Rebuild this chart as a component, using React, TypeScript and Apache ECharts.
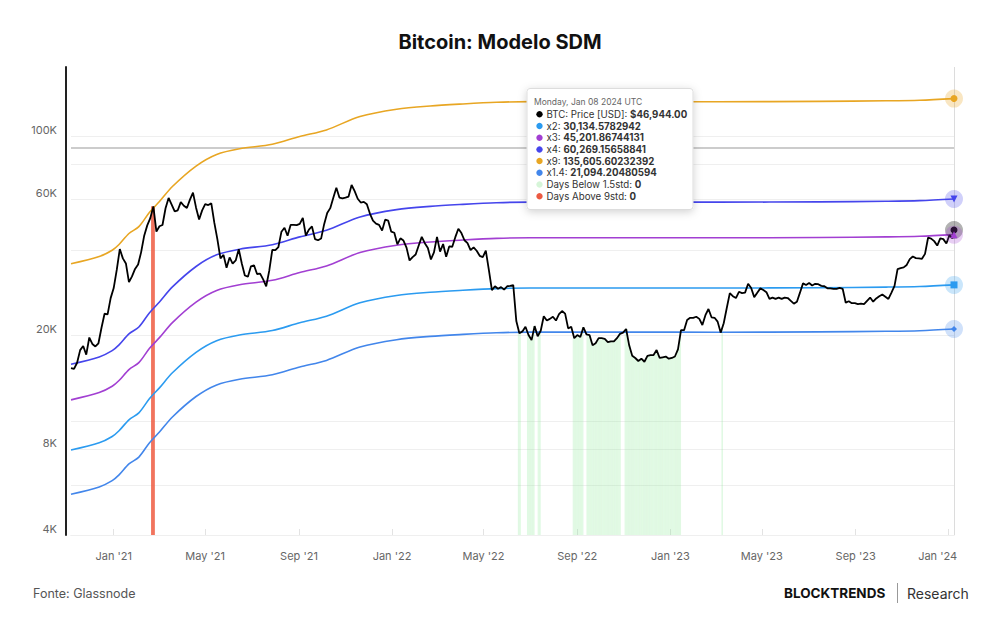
import React, { useEffect, useRef } from 'react';
import * as echarts from 'echarts';

const DAY = 86400000;
const ts = (d: string) => Date.parse(d + 'T00:00:00Z');

// BTC daily close sampled every 4 days, starting on priceStart
const priceStart = '2020-11-06';
const priceStepDays = 4;
const btcPrice = [
  // 2020-11
  15400, 15300, 16070, 17800, 18400, 17150, 19700,
  // 2020-12
  18700, 18330, 18810, 21310, 23870, 23740, 27080,
  // 2021-01
  29370, 33990, 40250, 37320, 35830, 30830, 32260, 34270,
  // 2021-02
  35510, 39260, 44840, 48720, 51650, 56800, 46340,
  // 2021-03
  48370, 48880, 55960, 60800, 57640, 54530, 55030, 58800,
  // 2021-04
  57100, 56050, 60000, 63500, 56200, 51100, 55000,
  // 2021-05
  57800, 57400, 58200, 49700, 43500, 37300, 38400, 34600,
  // 2021-06
  37600, 35800, 36700, 40200, 35800, 32500, 32200, 35000,
  // 2021-07
  35300, 32900, 33000, 31500, 29800, 33800, 40000,
  // 2021-08
  39900, 40900, 46300, 47800, 44800, 48900, 48900, 48800,
  // 2021-09
  49300, 51800, 44900, 47100, 48300, 43600, 43200, 43800,
  // 2021-10
  49200, 53800, 56000, 60900, 66000, 61000, 60600,
  // 2021-11
  61000, 61500, 67500, 64200, 60400, 58600, 58900, 57800,
  // 2021-12
  53600, 50600, 49400, 48900, 46700, 51000, 50600, 46300,
  // 2022-01
  45900, 41800, 43900, 43100, 40700, 36700, 37700,
  // 2022-02
  38500, 41400, 44400, 42200, 40600, 37000, 39200,
  // 2022-03
  44400, 39400, 41900, 37800, 41100, 41000, 44300, 47400,
  // 2022-04
  45800, 43200, 42200, 39900, 40800, 39700, 38100, 37700,
  // 2022-05
  39700, 34000, 28900, 29800, 29200, 29600, 29000,
  // 2022-06
  29800, 29900, 30100, 22500, 20400, 20700, 21500, 20100,
  // 2022-07
  19300, 21600, 19900, 20800, 23400, 22600, 22900, 23300,
  // 2022-08
  22600, 23800, 24400, 23900, 21200, 21500, 19600,
  // 2022-09
  20100, 19800, 21400, 20200, 20100, 18500, 18800, 19600,
  // 2022-10
  19600, 19500, 19000, 19100, 19100, 19600, 20300, 20500,
  // 2022-11
  21100, 18500, 17000, 16700, 16300, 16600, 16200,
  // 2022-12
  17000, 17100, 17100, 17800, 16700, 16800, 16900, 16600,
  // 2023-01
  16700, 16900, 17900, 20900, 20900, 22700, 23100, 23100,
  // 2023-02
  23300, 22900, 21800, 23600, 24800, 23200, 23100,
  // 2023-03
  22400, 20500, 22100, 25000, 28200, 27500, 27100,
  // 2023-04
  28500, 28200, 28300, 30400, 29400, 27300, 28300, 29300,
  // 2023-05
  28900, 28400, 26900, 27200, 26900, 27200, 26900, 27200,
  // 2023-06
  27100, 26500, 25900, 26300, 28300, 30500, 30100,
  // 2023-07
  30600, 30000, 30400, 30300, 29900, 29800, 29300, 29300,
  // 2023-08
  29200, 29200, 29400, 29200, 26100, 26400, 26000, 26000,
  // 2023-09
  25800, 25900, 25800, 26500, 27200, 26300, 27000,
  // 2023-10
  27500, 27900, 27400, 26900, 28300, 29900, 34200, 34500,
  // 2023-11
  34700, 35400, 37100, 37900, 37400, 37300, 37200,
  // 2023-12
  38700, 44100, 43800, 42900, 41400, 43900, 43600, 42100,
  // 2024-01
  45000, 43900,
];
const lastDate = '2024-01-08';
const lastPrice = 46944;

// SDM base curve (the bands are multiples of it)
const sdmBase: [string, number][] = [
  ['2020-11-06', 3970],
  ['2020-12-13', 4210],
  ['2020-12-30', 4430],
  ['2021-01-08', 4640],
  ['2021-01-21', 5070],
  ['2021-02-03', 5360],
  ['2021-02-17', 6020],
  ['2021-03-02', 6560],
  ['2021-03-19', 7410],
  ['2021-04-19', 8740],
  ['2021-05-16', 9600],
  ['2021-06-15', 10050],
  ['2021-07-28', 10420],
  ['2021-09-02', 11100],
  ['2021-10-07', 11700],
  ['2021-11-20', 13040],
  ['2022-01-07', 13830],
  ['2022-02-20', 14200],
  ['2022-04-04', 14430],
  ['2022-05-18', 14620],
  ['2022-07-01', 14700],
  ['2022-11-01', 14700],
  ['2023-03-06', 14690],
  ['2023-07-15', 14730],
  ['2023-10-11', 14800],
  ['2023-11-24', 14870],
  ['2024-01-08', 15067.289147102],
];

const bandNames = ['x2', 'x3', 'x4', 'x9', 'x1.4'];
const bandMultipliers = [2, 3, 4, 9, 1.4];

// Periods flagged by the two indicators
const daysBelow: [string, string][] = [
  ['2022-06-15', '2022-06-18'],
  ['2022-06-27', '2022-07-06'],
  ['2022-07-11', '2022-07-14'],
  ['2022-08-26', '2022-09-08'],
  ['2022-09-13', '2022-10-27'],
  ['2022-11-02', '2023-01-14'],
  ['2023-03-09', '2023-03-10'],
];
const daysAbove: [string, string][] = [['2021-02-19', '2021-02-23']];

const yGridValues = [100000, 80000, 60000, 40000, 20000, 10000, 8000, 6000, 4000];
const yGridLabels = ['100K', '', '60K', '', '20K', '', '8K', '', '4K'];
const referenceLevel = 91500;

const xTickDates = [
  '2021-01-01', '2021-05-01', '2021-09-01', '2022-01-01', '2022-05-01',
  '2022-09-01', '2023-01-01', '2023-05-01', '2023-09-01', '2024-01-01',
];
const xTickLabels = [
  "Jan '21", "May '21", "Sep '21", "Jan '22", "May '22",
  "Sep '22", "Jan '23", "May '23", "Sep '23", "Jan '24",
];

// styles
const FONT = 'Inter';
const Y_MIN = 4000;
const Y_MAX = 175000;
const bandColors: Record<string, string> = {
  x2: '#2B9BF0',
  x3: '#A23FD2',
  x4: '#4545EC',
  x9: '#E8A623',
  'x1.4': '#4286EB',
};
const bandHalos: Record<string, string> = {
  x2: 'rgba(43,155,240,0.25)',
  x3: 'rgba(162,63,210,0.25)',
  x4: 'rgba(69,69,236,0.25)',
  x9: 'rgba(232,166,35,0.28)',
  'x1.4': 'rgba(66,134,235,0.25)',
};
const bandSymbols: Record<string, [string, number, number]> = {
  x2: ['rect', 7, 0],
  x3: ['triangle', 7, 0],
  x4: ['triangle', 7, 180],
  x9: ['circle', 7, 0],
  'x1.4': ['diamond', 6, 0],
};
const belowColor = 'rgba(150,235,160,0.3)';
const aboveColor = 'rgba(238,92,66,0.85)';

const priceData: [number, number][] = btcPrice.map((v, i) => [
  ts(priceStart) + i * priceStepDays * DAY,
  v,
]);
priceData.push([ts(lastDate), lastPrice]);

function nearestPrice(t: number): number {
  let best = priceData[0];
  for (const p of priceData) {
    if (Math.abs(p[0] - t) < Math.abs(best[0] - t)) best = p;
  }
  return best[1];
}

function dailyBars(intervals: [string, string][]) {
  const items: number[][] = [];
  intervals.forEach(([s, e]) => {
    for (let t = ts(s); t <= ts(e); t += DAY) {
      items.push([t, t + DAY, nearestPrice(t + DAY / 2)]);
    }
  });
  return items;
}

function blockBars(intervals: [string, string][]) {
  return intervals.map(([s, e]) => {
    const t0 = ts(s);
    const t1 = ts(e) + DAY;
    return [t0, t1, nearestPrice((t0 + t1) / 2)];
  });
}

function fmtNum(v: number, minDec: number, maxDec: number) {
  return v.toLocaleString('en-US', {
    minimumFractionDigits: minDec,
    maximumFractionDigits: maxDec,
  });
}

function inIntervals(d: string, intervals: [string, string][]) {
  const t = ts(d);
  return intervals.some(([s, e]) => t >= ts(s) && t <= ts(e)) ? 1 : 0;
}

function barSeries(name: string, data: number[][], color: string) {
  return {
    name,
    type: 'custom',
    z: 1,
    silent: true,
    clip: true,
    encode: { x: [0, 1], y: 2 },
    data,
    renderItem: (_p: any, api: any) => {
      const a = api.coord([api.value(0), api.value(2)]);
      const b = api.coord([api.value(1), Y_MIN]);
      return {
        type: 'rect',
        shape: { x: a[0], y: a[1], width: b[0] - a[0], height: b[1] - a[1] },
        style: { fill: color },
      };
    },
  };
}

function buildOption() {
  const lastTs = ts(lastDate);
  const lastBase = sdmBase[sdmBase.length - 1][1];
  const xTickTs = xTickDates.map(ts);

  const bandSeries = bandNames.map((name, i) => {
    const m = bandMultipliers[i];
    const [sym, size, rot] = bandSymbols[name];
    const endVal = lastBase * m;
    return {
      name,
      type: 'line',
      z: 2,
      smooth: 0.3,
      showSymbol: false,
      silent: true,
      lineStyle: { color: bandColors[name], width: 1.6 },
      data: sdmBase.map(([d, b]) => [ts(d), b * m]),
      markPoint: {
        silent: true,
        z: name === 'x3' ? 7 : 5,
        label: { show: false },
        data: [
          { coord: [lastTs, endVal], symbol: 'circle', symbolSize: 18, itemStyle: { color: bandHalos[name] } },
          { coord: [lastTs, endVal], symbol: sym, symbolSize: size, symbolRotate: rot, itemStyle: { color: bandColors[name] } },
        ],
      },
    };
  });

  const gridMarks = yGridValues.map((v, i) => ({
    yAxis: v,
    lineStyle: { color: '#efefef', width: 1, type: 'solid' },
    label: yGridLabels[i]
      ? {
          show: true,
          position: 'start',
          formatter: `{t|${yGridLabels[i]}}`,
          distance: 14,
          rich: {
            t: { color: '#666', fontSize: 11, fontFamily: FONT, padding: [0, 0, 13, 0] },
          },
        }
      : { show: false },
  }));

  const gridSeries = {
    name: 'grid',
    type: 'line',
    z: 0,
    silent: true,
    showSymbol: false,
    lineStyle: { opacity: 0 },
    data: [[ts(priceStart), Y_MIN]],
    markLine: {
      silent: true,
      z: 1,
      symbol: ['none', 'none'],
      animation: false,
      data: [
        ...gridMarks,
        { yAxis: referenceLevel, lineStyle: { color: '#cccccc', width: 2, type: 'solid' }, label: { show: false } },
        { xAxis: lastTs, lineStyle: { color: '#dcdcdc', width: 1, type: 'solid' }, label: { show: false } },
      ],
    },
  };

  const priceSeries = {
    name: 'BTC: Price [USD]',
    type: 'line',
    z: 3,
    showSymbol: false,
    silent: true,
    lineStyle: { color: '#000', width: 1.8 },
    data: priceData,
    markPoint: {
      silent: true,
      z: 6,
      label: { show: false },
      data: [
        { coord: [lastTs, lastPrice], symbol: 'circle', symbolSize: 18, itemStyle: { color: 'rgba(0,0,0,0.3)' } },
        { coord: [lastTs, lastPrice], symbol: 'circle', symbolSize: 7, itemStyle: { color: '#000' } },
      ],
    },
  };

  // tooltip box for the last day
  const rowLabels = ['BTC: Price [USD]', ...bandNames, 'Days Below 1.5std', 'Days Above 9std'];
  const rowValues = [
    '$' + fmtNum(lastPrice, 2, 2),
    ...bandMultipliers.map((m) => fmtNum(lastBase * m, 0, 8)),
    String(inIntervals(lastDate, daysBelow)),
    String(inIntervals(lastDate, daysAbove)),
  ];
  const rowColors = ['#000', ...bandNames.map((n) => bandColors[n]), '#D6F5D8', '#EC5A42'];
  const tipX = 527;
  const tipY = 88.5;
  const rowY0 = 114.3;
  const rowStep = 11.7;
  const TZ = 100;
  const tipChildren: any[] = [
    {
      type: 'rect',
      z: TZ,
      shape: { x: tipX, y: tipY, width: 166, height: 121, r: 3 },
      style: {
        fill: '#ffffff',
        stroke: '#dddddd',
        lineWidth: 1,
        shadowBlur: 8,
        shadowOffsetY: 2,
        shadowColor: 'rgba(0,0,0,0.18)',
      },
    },
    {
      type: 'text',
      z: TZ + 1,
      style: {
        x: 534,
        y: 102,
        text: 'Monday, Jan 08 2024 UTC',
        fill: '#666',
        fontSize: 8.5,
        fontFamily: FONT,
        verticalAlign: 'middle',
      },
    },
  ];
  rowLabels.forEach((lab, i) => {
    const y = rowY0 + i * rowStep;
    tipChildren.push({
      type: 'circle',
      z: TZ + 1,
      shape: { cx: 539.5, cy: y, r: 3.2 },
      style: { fill: rowColors[i] },
    });
    tipChildren.push({
      type: 'text',
      z: TZ + 1,
      style: {
        x: 546.5,
        y,
        text: `{n|${lab}: }{b|${rowValues[i]}}`,
        verticalAlign: 'middle',
        rich: {
          n: { fontSize: 9.7, fontFamily: FONT, fill: '#333' },
          b: { fontSize: 9.7, fontFamily: FONT, fontWeight: 'bold', fill: '#333' },
        },
      },
    });
  });

  return {
    animation: false,
    textStyle: { fontFamily: FONT },
    grid: { left: 71, right: 46, top: 67, bottom: 95 },
    xAxis: {
      type: 'value',
      min: ts(priceStart),
      max: lastTs,
      axisLine: { show: true, lineStyle: { color: '#e3e3e3', width: 1 } },
      axisTick: {
        show: true,
        inside: true,
        length: 6,
        customValues: xTickTs,
        lineStyle: { color: '#e3e3e3' },
      },
      axisLabel: {
        customValues: xTickTs,
        color: '#666',
        fontSize: 11,
        fontFamily: FONT,
        margin: 15,
        formatter: (v: number) => {
          const i = xTickTs.indexOf(v);
          if (i < 0) return '';
          return i === xTickTs.length - 1 ? `{last|${xTickLabels[i]}}` : xTickLabels[i];
        },
        rich: {
          last: { color: '#666', fontSize: 11, fontFamily: FONT, padding: [0, 22, 0, 0] },
        },
      },
      splitLine: { show: false },
    },
    yAxis: {
      type: 'log',
      logBase: 10,
      min: Y_MIN,
      max: Y_MAX,
      offset: 5,
      axisLine: { show: true, lineStyle: { color: '#222', width: 2 } },
      axisTick: { show: false },
      axisLabel: { show: false },
      splitLine: { show: false },
    },
    series: [
      gridSeries,
      barSeries('Days Below 1.5std', dailyBars(daysBelow), belowColor),
      barSeries('Days Above 9std', blockBars(daysAbove), aboveColor),
      ...bandSeries,
      priceSeries,
    ],
    graphic: [
      {
        type: 'text',
        z: TZ,
        style: {
          x: 500,
          y: 42,
          text: 'Bitcoin: Modelo SDM',
          align: 'center',
          verticalAlign: 'middle',
          fontSize: 20,
          fontWeight: 'bold',
          fontFamily: FONT,
          fill: '#111',
        },
      },
      {
        type: 'text',
        z: TZ,
        style: {
          x: 33,
          y: 593,
          text: 'Fonte: Glassnode',
          verticalAlign: 'middle',
          fontSize: 12.5,
          fontFamily: FONT,
          fill: '#555',
        },
      },
      {
        type: 'text',
        z: TZ,
        style: {
          x: 784,
          y: 593,
          text: 'BLOCKTRENDS',
          verticalAlign: 'middle',
          fontSize: 13.5,
          fontWeight: 'bold',
          fontFamily: FONT,
          fill: '#111',
        },
      },
      {
        type: 'line',
        z: TZ,
        shape: { x1: 897.5, y1: 583, x2: 897.5, y2: 603 },
        style: { stroke: '#999', lineWidth: 1 },
      },
      {
        type: 'text',
        z: TZ,
        style: {
          x: 907,
          y: 593,
          text: 'Research',
          verticalAlign: 'middle',
          fontSize: 14,
          fontFamily: FONT,
          fill: '#333',
        },
      },
      { type: 'group', z: TZ, children: tipChildren },
    ],
  };
}

export default function App() {
  const ref = useRef<HTMLDivElement>(null);
  useEffect(() => {
    if (!ref.current) return;
    const chart = echarts.init(ref.current, null, { renderer: 'svg' });
    chart.setOption(buildOption() as any);
    return () => chart.dispose();
  }, []);
  return (
    <div
      ref={ref}
      style={{ position: 'absolute', left: 0, top: 0, width: 1000, height: 630, background: '#fff' }}
    />
  );
}
